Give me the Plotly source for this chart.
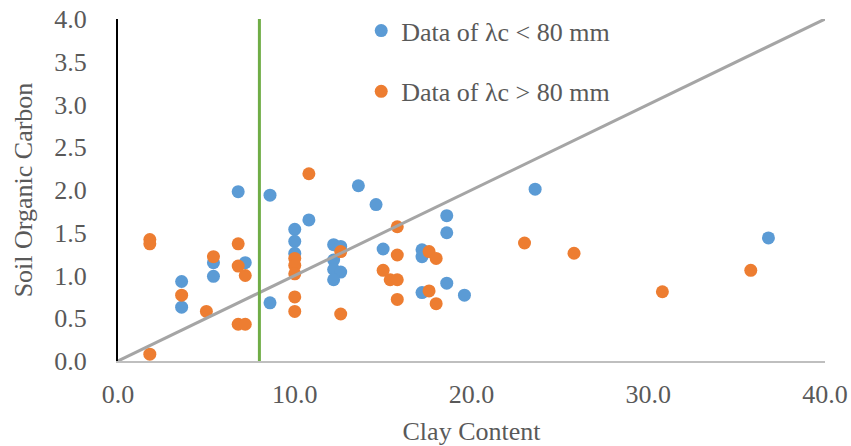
import plotly.graph_objects as go

# Soil samples, clay content (%) vs soil organic carbon
clay_low = [6.8, 8.6, 5.4, 7.2, 5.4, 3.6, 3.6, 8.6, 13.6, 14.6, 10.8, 10.0, 10.0, 10.0,
            12.2, 12.6, 12.2, 12.2, 12.6, 12.2, 15.0, 17.2, 17.2, 18.6, 18.6, 18.6,
            17.2, 19.6, 23.6, 36.8]
soc_low = [1.98, 1.94, 1.15, 1.15, 0.99, 0.93, 0.63, 0.68, 2.05, 1.83, 1.65, 1.54, 1.40, 1.26,
           1.36, 1.34, 1.18, 1.07, 1.04, 0.95, 1.31, 1.30, 1.22, 1.70, 1.50, 0.91,
           0.80, 0.77, 2.01, 1.44]

clay_high = [1.8, 1.8, 6.8, 5.4, 6.8, 7.2, 3.6, 5.0, 6.8, 7.2, 1.8, 10.8, 10.0, 10.0, 10.0,
             10.0, 10.0, 12.6, 12.6, 15.8, 15.8, 15.0, 15.4, 15.8, 15.8, 17.6, 18.0,
             17.6, 18.0, 23.0, 25.8, 30.8, 35.8]
soc_high = [1.42, 1.37, 1.37, 1.22, 1.11, 1.00, 0.77, 0.58, 0.43, 0.43, 0.08, 2.19, 1.20, 1.12,
            1.02, 0.75, 0.58, 1.28, 0.55, 1.57, 1.24, 1.06, 0.95, 0.95, 0.72, 1.28, 1.20,
            0.82, 0.67, 1.38, 1.26, 0.81, 1.06]

# Reference lines: 1:10 ratio line and clay threshold
ratio_x = [0, 40]
ratio_y = [0, 4]
threshold_x = [8, 8]
threshold_y = [0, 4]

x_ticks = [0, 10, 20, 30, 40]
y_ticks = [0, 0.5, 1.0, 1.5, 2.0, 2.5, 3.0, 3.5, 4.0]

FONT = "Liberation Serif, Times New Roman, serif"
TXT = "#595959"

fig = go.Figure()
fig.add_trace(go.Scatter(x=clay_low, y=soc_low, mode="markers", name="Data of λc < 80 mm",
                         legendgroup="a",
                         marker=dict(color="#5B9BD5", size=13, line=dict(width=0))))
fig.add_trace(go.Scatter(x=clay_high, y=soc_high, mode="markers", name="Data of λc > 80 mm",
                         legendgroup="b",
                         marker=dict(color="#ED7D31", size=13, line=dict(width=0))))
fig.add_trace(go.Scatter(x=ratio_x, y=ratio_y, mode="lines", showlegend=False,
                         line=dict(color="#A5A5A5", width=3)))
fig.add_trace(go.Scatter(x=threshold_x, y=threshold_y, mode="lines", showlegend=False,
                         line=dict(color="#70AD47", width=3)))

fig.update_layout(
    width=851, height=446,
    margin=dict(l=118, r=26, t=19, b=85, autoexpand=False),
    paper_bgcolor="white", plot_bgcolor="white",
    font=dict(family=FONT, color=TXT, size=26),
    showlegend=True,
    legend=dict(x=0.344, y=0.984, xref="paper", yref="container",
                xanchor="left", yanchor="top",
                bgcolor="rgba(0,0,0,0)", font=dict(size=26, color=TXT),
                tracegroupgap=24, traceorder="grouped", itemwidth=30),
    xaxis=dict(range=[0, 40], tickvals=x_ticks, tickformat=".1f",
               showgrid=False, zeroline=False, automargin=False,
               showline=True, linecolor="#BFBFBF", linewidth=2,
               ticks="outside", ticklen=9, tickcolor="rgba(0,0,0,0)",
               tickfont=dict(size=26, color=TXT),
               title=dict(text="Clay Content", font=dict(size=26, color=TXT), standoff=17)),
    yaxis=dict(range=[0, 4], tickvals=y_ticks, tickformat=".1f",
               showgrid=False, zeroline=False, automargin=False,
               showline=True, linecolor="black", linewidth=2,
               ticks="outside", ticklen=24, tickcolor="rgba(0,0,0,0)",
               tickfont=dict(size=26, color=TXT),
               title=dict(text="Soil Organic Carbon", font=dict(size=26, color=TXT), standoff=14)),
)

fig.write_html("out.html")
